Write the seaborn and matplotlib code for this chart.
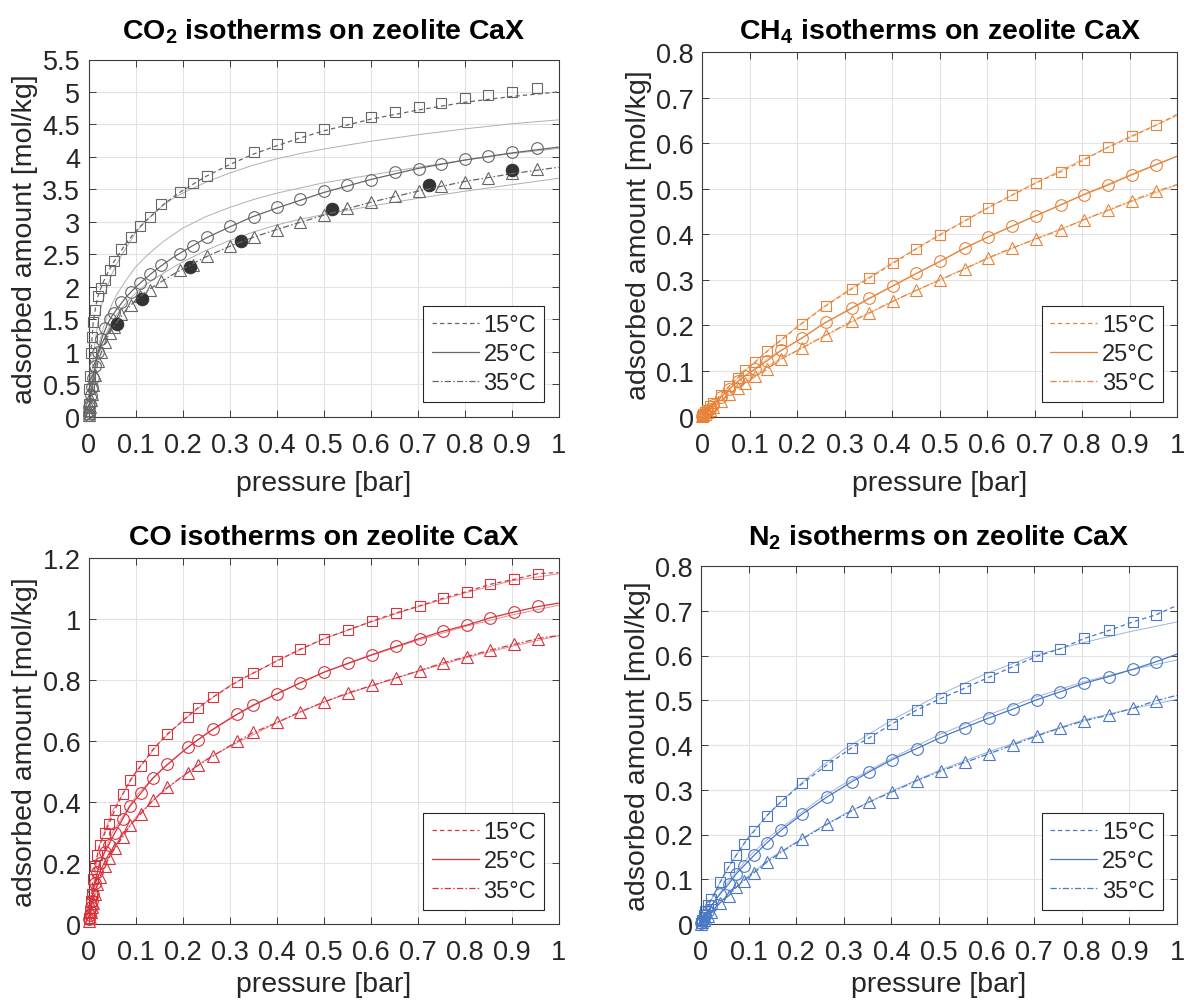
import numpy as np
import pandas as pd
import matplotlib
matplotlib.use("Agg")
import matplotlib.pyplot as plt
import seaborn as sns
from matplotlib.lines import Line2D
from matplotlib.ticker import FuncFormatter, MultipleLocator

# ---------------- data ----------------
temps = ["15°C", "25°C", "35°C"]

# CO2 measured points
co2_p = [0.0005, 0.001, 0.002, 0.003, 0.005, 0.007, 0.01, 0.014, 0.02, 0.027, 0.035, 0.045, 0.055, 0.07,
         0.09, 0.11, 0.13, 0.155, 0.195, 0.222, 0.253, 0.301, 0.352, 0.40, 0.451, 0.50, 0.551, 0.602,
         0.653, 0.704, 0.751, 0.801, 0.851, 0.90, 0.955]
co2_15 = [0.08, 0.2, 0.42, 0.62, 0.98, 1.22, 1.45, 1.64, 1.85, 1.98, 2.1, 2.26, 2.39, 2.58, 2.76, 2.94, 3.08,
          3.27, 3.46, 3.59, 3.71, 3.91, 4.07, 4.20, 4.31, 4.43, 4.53, 4.62, 4.69, 4.77, 4.83, 4.90, 4.95,
          5.00, 5.06]
co2_25 = [0.03, 0.07, 0.14, 0.2, 0.33, 0.45, 0.6, 0.78, 1.0, 1.2, 1.37, 1.5, 1.60, 1.76, 1.92, 2.06, 2.19,
          2.33, 2.51, 2.63, 2.77, 2.93, 3.08, 3.22, 3.35, 3.47, 3.57, 3.65, 3.76, 3.82, 3.89, 3.96, 4.01,
          4.07, 4.14]
co2_35 = [0.02, 0.05, 0.1, 0.15, 0.25, 0.35, 0.48, 0.64, 0.85, 1.0, 1.15, 1.28, 1.38, 1.58, 1.72, 1.85, 1.95,
          2.08, 2.25, 2.34, 2.47, 2.63, 2.77, 2.87, 2.99, 3.10, 3.21, 3.31, 3.40, 3.48, 3.55, 3.62, 3.68,
          3.75, 3.81]
# CO2 model curves
co2_fit_p = [0, 0.0025, 0.005, 0.01, 0.015, 0.02, 0.03, 0.04, 0.05, 0.06, 0.08, 0.1, 0.12, 0.14, 0.16, 0.18,
             0.2, 0.25, 0.3, 0.35, 0.4, 0.45, 0.5, 0.6, 0.7, 0.8, 0.9, 1.0]
co2_fit_15 = [0, 0.55, 0.95, 1.45, 1.68, 1.85, 2.05, 2.2, 2.34, 2.45, 2.67, 2.85, 3.0, 3.13, 3.27, 3.38,
              3.48, 3.7, 3.88, 4.04, 4.17, 4.29, 4.4, 4.58, 4.72, 4.84, 4.93, 5.0]
co2_fit_25 = [0, 0.17, 0.33, 0.6, 0.8, 0.98, 1.24, 1.42, 1.55, 1.65, 1.84, 1.99, 2.12, 2.24, 2.35, 2.45,
              2.54, 2.75, 2.92, 3.08, 3.21, 3.33, 3.45, 3.65, 3.82, 3.95, 4.06, 4.15]
co2_fit_35 = [0, 0.12, 0.25, 0.48, 0.66, 0.83, 1.05, 1.22, 1.35, 1.45, 1.64, 1.79, 1.91, 2.01, 2.1, 2.19,
              2.27, 2.46, 2.62, 2.76, 2.88, 2.99, 3.1, 3.3, 3.47, 3.62, 3.74, 3.84]
co2_thin_15 = [0, 0.28, 0.5, 0.9, 1.2, 1.45, 1.78, 2.0, 2.2, 2.35, 2.6, 2.83, 3.0, 3.14, 3.26, 3.36,
               3.44, 3.61, 3.75, 3.87, 3.97, 4.05, 4.12, 4.24, 4.34, 4.43, 4.51, 4.57]
co2_thin_25 = [0, 0.18, 0.35, 0.65, 0.87, 1.05, 1.33, 1.55, 1.73, 1.88, 2.1, 2.3, 2.45, 2.58, 2.7, 2.8,
               2.9, 3.08, 3.22, 3.34, 3.44, 3.52, 3.6, 3.72, 3.84, 3.95, 4.05, 4.13]
co2_thin_35 = [0, 0.16, 0.3, 0.55, 0.74, 0.92, 1.14, 1.32, 1.46, 1.57, 1.75, 1.9, 2.02, 2.12, 2.21, 2.3,
               2.38, 2.56, 2.71, 2.84, 2.95, 3.04, 3.11, 3.24, 3.36, 3.47, 3.57, 3.67]
co2_extra_p = [0.06, 0.114, 0.217, 0.324, 0.519, 0.725, 0.90]
co2_extra_q = [1.42, 1.81, 2.31, 2.70, 3.20, 3.57, 3.80]

# CH4
ch4_p = [0.001, 0.003, 0.006, 0.01, 0.016, 0.024, 0.039, 0.057, 0.075, 0.09, 0.112, 0.137, 0.167, 0.21, 0.261,
         0.315, 0.351, 0.402, 0.451, 0.502, 0.553, 0.602, 0.653, 0.704, 0.755, 0.804, 0.855, 0.906, 0.955]
ch4_15 = [0.0015, 0.005, 0.01, 0.015, 0.022, 0.029, 0.048, 0.066, 0.084, 0.101, 0.119, 0.143, 0.168, 0.204,
          0.243, 0.280, 0.303, 0.336, 0.368, 0.399, 0.429, 0.458, 0.486, 0.513, 0.537, 0.563, 0.591, 0.615, 0.639]
ch4_25 = [0.001, 0.004, 0.008, 0.012, 0.016, 0.026, 0.042, 0.060, 0.077, 0.089, 0.104, 0.122, 0.145, 0.172,
          0.207, 0.238, 0.259, 0.287, 0.314, 0.341, 0.370, 0.394, 0.418, 0.441, 0.464, 0.487, 0.508, 0.531, 0.552]
ch4_35 = [0.001, 0.003, 0.006, 0.009, 0.014, 0.021, 0.033, 0.050, 0.062, 0.073, 0.088, 0.104, 0.126, 0.150,
          0.179, 0.209, 0.227, 0.253, 0.277, 0.300, 0.324, 0.348, 0.370, 0.390, 0.410, 0.432, 0.453, 0.474, 0.494]
ch4_end = [0.663, 0.571, 0.509]
thin_p = [0, 0.02, 0.05, 0.1, 0.15, 0.2, 0.25, 0.3, 0.4, 0.5, 0.6, 0.7, 0.8, 0.9, 1.0]
ch4_thin_15 = [0, 0.023, 0.058, 0.11, 0.155, 0.197, 0.236, 0.272, 0.337, 0.399, 0.457, 0.512, 0.563, 0.614, 0.66]
ch4_thin_25 = [0, 0.02, 0.052, 0.097, 0.136, 0.165, 0.2, 0.228, 0.285, 0.34, 0.393, 0.44, 0.486, 0.53, 0.572]
ch4_thin_35 = [0, 0.017, 0.045, 0.084, 0.118, 0.145, 0.172, 0.199, 0.252, 0.30, 0.346, 0.389, 0.43, 0.47, 0.508]

# CO
co_p = [0.001, 0.002, 0.004, 0.006, 0.008, 0.012, 0.018, 0.023, 0.034, 0.042, 0.055, 0.072, 0.088, 0.11, 0.136,
        0.167, 0.21, 0.232, 0.265, 0.316, 0.35, 0.401, 0.45, 0.501, 0.552, 0.603, 0.654, 0.704, 0.754, 0.805,
        0.855, 0.906, 0.957]
co_15 = [0.02, 0.04, 0.075, 0.1, 0.146, 0.189, 0.227, 0.259, 0.299, 0.327, 0.374, 0.426, 0.472, 0.518, 0.572,
         0.623, 0.68, 0.709, 0.745, 0.795, 0.823, 0.863, 0.901, 0.936, 0.964, 0.993, 1.02, 1.043, 1.068, 1.09,
         1.114, 1.13, 1.149]
co_25 = [0.015, 0.03, 0.055, 0.075, 0.1, 0.135, 0.17, 0.2, 0.237, 0.259, 0.299, 0.345, 0.388, 0.428, 0.478,
         0.523, 0.579, 0.604, 0.639, 0.688, 0.718, 0.755, 0.791, 0.826, 0.855, 0.883, 0.91, 0.936, 0.96, 0.98,
         1.004, 1.023, 1.041]
co_35 = [0.01, 0.02, 0.04, 0.055, 0.07, 0.1, 0.13, 0.155, 0.19, 0.216, 0.248, 0.286, 0.324, 0.361, 0.405,
         0.448, 0.496, 0.52, 0.552, 0.599, 0.628, 0.661, 0.696, 0.728, 0.758, 0.782, 0.807, 0.831, 0.856, 0.877,
         0.898, 0.917, 0.936]
co_end = [1.152, 1.052, 0.946]
co_thin_15 = [0, 0.25, 0.37, 0.5, 0.595, 0.668, 0.728, 0.782, 0.863, 0.935, 0.99, 1.04, 1.085, 1.125, 1.148]
co_thin_25 = [0, 0.19, 0.3, 0.42, 0.5, 0.566, 0.625, 0.675, 0.755, 0.825, 0.88, 0.93, 0.975, 1.013, 1.045]
co_thin_35 = [0, 0.14, 0.245, 0.35, 0.425, 0.485, 0.54, 0.582, 0.66, 0.728, 0.78, 0.828, 0.872, 0.91, 0.945]

# N2
n2_p = [0.001, 0.003, 0.006, 0.009, 0.014, 0.022, 0.04, 0.058, 0.074, 0.09, 0.112, 0.138, 0.169, 0.213, 0.265,
        0.317, 0.352, 0.401, 0.453, 0.504, 0.554, 0.604, 0.655, 0.705, 0.755, 0.805, 0.857, 0.907, 0.956]
n2_15 = [0.003, 0.01, 0.02, 0.03, 0.042, 0.056, 0.093, 0.127, 0.154, 0.179, 0.208, 0.242, 0.274, 0.314, 0.356,
         0.394, 0.415, 0.447, 0.478, 0.504, 0.527, 0.551, 0.575, 0.598, 0.615, 0.638, 0.656, 0.675, 0.691]
n2_25 = [0.002, 0.007, 0.013, 0.02, 0.029, 0.041, 0.067, 0.089, 0.112, 0.13, 0.154, 0.181, 0.21, 0.246, 0.284,
         0.318, 0.339, 0.367, 0.392, 0.417, 0.439, 0.46, 0.48, 0.501, 0.519, 0.538, 0.553, 0.569, 0.586]
n2_35 = [0.001, 0.004, 0.008, 0.013, 0.018, 0.026, 0.047, 0.063, 0.082, 0.097, 0.115, 0.138, 0.161, 0.19, 0.223,
         0.253, 0.272, 0.295, 0.32, 0.342, 0.361, 0.38, 0.40, 0.42, 0.438, 0.454, 0.467, 0.482, 0.499]
n2_end = [0.712, 0.603, 0.511]
n2_thin_15 = [0, 0.05, 0.115, 0.195, 0.255, 0.305, 0.35, 0.39, 0.455, 0.512, 0.56, 0.6, 0.628, 0.653, 0.675]
n2_thin_25 = [0, 0.038, 0.085, 0.15, 0.2, 0.24, 0.28, 0.313, 0.37, 0.423, 0.466, 0.506, 0.54, 0.567, 0.59]
n2_thin_35 = [0, 0.025, 0.06, 0.108, 0.15, 0.183, 0.215, 0.245, 0.297, 0.343, 0.383, 0.42, 0.455, 0.48, 0.502]

# ---------------- style ----------------
sns.set_theme(style="whitegrid")
plt.rcParams['font.family'] = ['Liberation Sans', 'DejaVu Sans']
plt.rcParams['mathtext.fontset'] = 'custom'
plt.rcParams['mathtext.rm'] = 'Liberation Sans'
plt.rcParams['mathtext.bf'] = 'Liberation Sans:bold'

W, H = 1187, 1003
fig = plt.figure(figsize=(W / 100, H / 100), dpi=100)
fig.patch.set_facecolor('white')

def box(l, r, t, b):
    return [l / W, (H - b) / H, (r - l) / W, (b - t) / H]

LS = [(0, (3.5, 2.5)), '-', (0, (5, 1.8, 1.2, 1.8))]
MK = ['s', 'o', '^']
MS = [7.4, 8.4, 8.4]
SPINE = '#3c3c3c'

def panel(ax, p, series, fits, tp, thins, color, thin_color, ymax, ystep, title, tpad, xlpad,
          extra=None):
    # second model (thin, light)
    for ty in thins:
        sns.lineplot(x=tp, y=ty, ax=ax, color=thin_color, lw=0.7, linestyle='-',
                     estimator=None, sort=False, legend=False, zorder=2)
    # measured points
    for y, mk, ms in zip(series, MK, MS):
        sns.lineplot(x=p, y=y, ax=ax, marker=mk, linestyle='none', markersize=ms,
                     markerfacecolor='none', markeredgecolor=color, markeredgewidth=0.8,
                     estimator=None, sort=False, legend=False, zorder=3, clip_on=False)
    if extra is not None:
        sns.lineplot(x=extra[0], y=extra[1], ax=ax, marker='o', linestyle='none', markersize=9,
                     markerfacecolor='#333333', markeredgecolor='#333333',
                     estimator=None, sort=False, legend=False, zorder=4)
    # fitted curves
    for (fx, fy), ls in zip(fits, LS):
        sns.lineplot(x=fx, y=fy, ax=ax, color=color, lw=0.9, linestyle=ls,
                     estimator=None, sort=False, legend=False, zorder=5)

    ax.set_xlim(0, 1)
    ax.set_ylim(0, ymax)
    ax.xaxis.set_major_locator(MultipleLocator(0.1))
    ax.yaxis.set_major_locator(MultipleLocator(ystep))
    fmt = FuncFormatter(lambda v, pos: f"{v:g}")
    ax.xaxis.set_major_formatter(fmt)
    ax.yaxis.set_major_formatter(fmt)
    ax.set_facecolor('white')
    ax.grid(True, color='#e3e3e3', lw=0.8)
    for s in ax.spines.values():
        s.set_color(SPINE)
        s.set_linewidth(0.8)
        s.set_visible(True)
    ax.tick_params(axis='both', which='major', direction='in', length=5, width=0.7,
                   colors=SPINE, labelcolor='#262626', labelsize=19.5,
                   top=True, right=True, bottom=True, left=True)
    ax.tick_params(axis='x', pad=11)
    ax.tick_params(axis='y', pad=6)
    ax.set_xlabel('pressure [bar]', fontsize=20.5, color='#262626', labelpad=xlpad)
    ax.set_ylabel('adsorbed amount [mol/kg]', fontsize=20.5, color='#262626', labelpad=3)
    ax.set_title(title, fontsize=20.5, fontweight='bold', color='black', pad=tpad)

    handles = [Line2D([], [], color=color, lw=0.9, linestyle=ls) for ls in LS]
    leg = ax.legend(handles, temps, loc='lower right', fontsize=17, frameon=True, fancybox=False,
                    edgecolor='#262626', framealpha=1, borderaxespad=0.6, handlelength=2.0,
                    handletextpad=0.2, labelspacing=0.3, borderpad=0.35)
    leg.get_frame().set_linewidth(0.8)
    leg.set_zorder(10)

def through(p, y, end):
    return [0.0] + list(p) + [1.0], [0.0] + list(y) + [end]

ax1 = fig.add_axes(box(88.5, 558.5, 60.5, 417.5))
panel(ax1, co2_p, [co2_15, co2_25, co2_35],
      [(co2_fit_p, co2_fit_15), (co2_fit_p, co2_fit_25), (co2_fit_p, co2_fit_35)],
      co2_fit_p, [co2_thin_15, co2_thin_25, co2_thin_35], '#666666', '#b0b0b0', 5.5, 0.5,
      r"CO$_\mathbf{2}$ isotherms on zeolite CaX", 15, 9, extra=(co2_extra_p, co2_extra_q))

ax2 = fig.add_axes(box(702, 1177, 53, 417.5))
panel(ax2, ch4_p, [ch4_15, ch4_25, ch4_35],
      [through(ch4_p, y, e) for y, e in zip([ch4_15, ch4_25, ch4_35], ch4_end)],
      thin_p, [ch4_thin_15, ch4_thin_25, ch4_thin_35], '#e6843c', '#f3b987', 0.8, 0.1,
      r"CH$_\mathbf{4}$ isotherms on zeolite CaX", 10, 9)

ax3 = fig.add_axes(box(89, 558.5, 559, 925))
panel(ax3, co_p, [co_15, co_25, co_35],
      [through(co_p, y, e) for y, e in zip([co_15, co_25, co_35], co_end)],
      thin_p, [co_thin_15, co_thin_25, co_thin_35], '#d8323c', '#eb8a90', 1.2, 0.2,
      "CO isotherms on zeolite CaX", 10, 4)

ax4 = fig.add_axes(box(701, 1177, 567, 925))
panel(ax4, n2_p, [n2_15, n2_25, n2_35],
      [through(n2_p, y, e) for y, e in zip([n2_15, n2_25, n2_35], n2_end)],
      thin_p, [n2_thin_15, n2_thin_25, n2_thin_35], '#4a78c4', '#9db5de', 0.8, 0.1,
      r"N$_\mathbf{2}$ isotherms on zeolite CaX", 16, 4)

fig.savefig('out.png', dpi=100, facecolor='white')
